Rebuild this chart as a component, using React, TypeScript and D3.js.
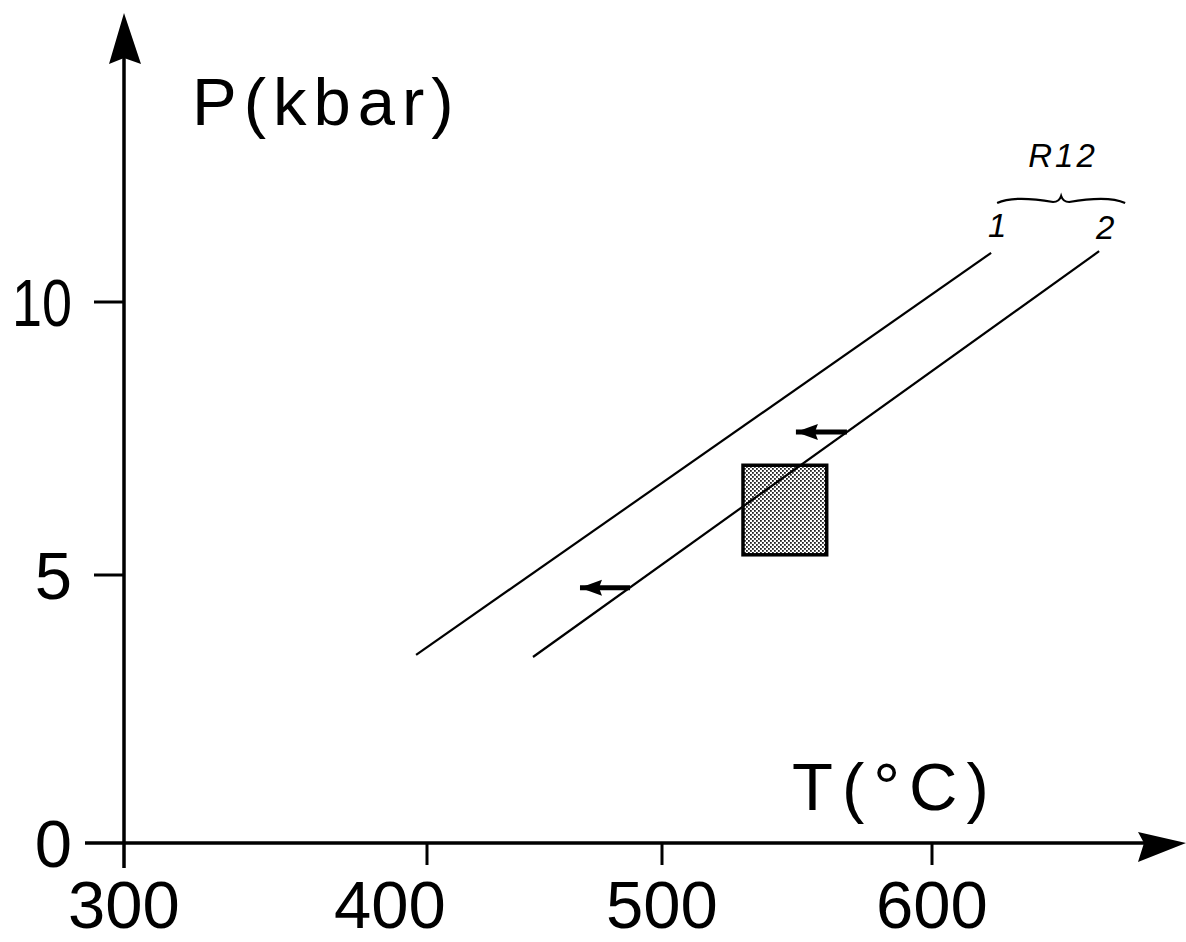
import React from "react";
import * as d3 from "d3";

// ---- data ----
const tempTicks = [300, 400, 500, 600];
const tempTickPx = [124, 427, 662, 932]; // hand-drawn, uneven spacing of the original axis
const pressureTicks = [0, 5, 10];
const pressureTickPx = [843, 575, 302];

const reaction1 = [
  { T: 396.4, P: 3.51 },
  { T: 621.9, P: 10.9 },
];
const reaction2 = [
  { T: 445.1, P: 3.47 },
  { T: 661.9, P: 10.93 },
];
const boxT = [530, 561];
const boxP = [5.37, 7.01];
const arrowA = [
  { T: 568.5, P: 7.62 },
  { T: 549.6, P: 7.62 },
];
const arrowB = [
  { T: 486.4, P: 4.76 },
  { T: 465.1, P: 4.76 },
];
const reactionLabels = ["1", "2"];
const groupLabel = "R12";

const W = 1186;
const H = 942;
const FONT = "'Liberation Sans', Arial, sans-serif";

export default function App() {
  const x = d3.scaleLinear().domain(tempTicks).range(tempTickPx);
  const y = d3.scaleLinear().domain(pressureTicks).range(pressureTickPx);
  const line = d3
    .line<{ T: number; P: number }>()
    .x((d) => x(d.T))
    .y((d) => y(d.P));

  const x0 = x(300);
  const y0 = y(0);

  const arrowHead = (pts: { T: number; P: number }[], len = 22, half = 8) => {
    const tx = x(pts[1].T);
    const ty = y(pts[1].P);
    return `M${tx},${ty} L${tx + len},${ty - half} L${tx + len - 3},${ty} L${tx + len},${ty + half} Z`;
  };

  const tickLabelDx: Record<number, number> = { 300: 0, 400: -37, 500: 0, 600: 0 };

  // brace between the ends of the two reaction lines
  const bx1 = x(reaction1[1].T) + 6;
  const bx2 = x(reaction2[1].T) + 26;
  const bm = (bx1 + bx2) / 2;
  const by = 200;
  const bracePath = `M${bx1},${by + 3} C${bx1 + 15},${by - 4} ${bm - 25},${by - 1} ${bm - 8},${by + 2} Q${bm - 2},${by + 2} ${bm},${by - 4} Q${bm + 2},${by + 2} ${bm + 8},${by + 2} C${bm + 25},${by - 1} ${bx2 - 15},${by - 4} ${bx2},${by + 3}`;

  return (
    <svg
      width={W}
      height={H}
      viewBox={`0 0 ${W} ${H}`}
      style={{ position: "absolute", left: 0, top: 0, background: "#fff" }}
    >
      <defs>
        <pattern id="stipple" width="4" height="4" patternUnits="userSpaceOnUse">
          <rect width="4" height="4" fill="#fff" />
          <rect x="0" y="0" width="1.8" height="1.8" fill="#222" />
          <rect x="2" y="2" width="1.8" height="1.8" fill="#222" />
        </pattern>
      </defs>

      {/* axes */}
      <line x1={x0} y1={868} x2={x0} y2={50} stroke="#000" strokeWidth={3.5} />
      <path d={`M${x0},13 L${x0 - 15},64 L${x0},58 L${x0 + 17},64 Z`} fill="#000" />
      <line x1={85} y1={y0} x2={1145} y2={y0} stroke="#000" strokeWidth={3.5} />
      <path d={`M1186,${y0} L1138,${y0 - 11} L1144,${y0} L1138,${y0 + 19} Z`} fill="#000" />

      {/* x ticks */}
      {tempTicks.map((t) => (
        <g key={t}>
          {t !== 300 && (
            <line x1={x(t)} y1={y0} x2={x(t)} y2={y0 + 22} stroke="#000" strokeWidth={3} />
          )}
          <text
            x={x(t) + tickLabelDx[t]}
            y={928}
            textAnchor="middle"
            fontFamily={FONT}
            fontSize={67}
            fill="#000"
          >
            {t}
          </text>
        </g>
      ))}

      {/* y ticks */}
      {pressureTicks.map((p) => (
        <g key={p}>
          {p !== 0 && (
            <line x1={x0 - 30} y1={y(p)} x2={x0} y2={y(p)} stroke="#000" strokeWidth={3} />
          )}
          <text
            x={72}
            y={y(p) + 24}
            textAnchor="end"
            fontFamily={FONT}
            fontSize={67}
            fill="#000"
            textLength={p >= 10 ? 60 : undefined}
            lengthAdjust="spacingAndGlyphs"
          >
            {p}
          </text>
        </g>
      ))}

      {/* axis titles */}
      <text x={192} y={125} fontFamily={FONT} fontSize={67} letterSpacing={7} fill="#000">
        P(kbar)
      </text>
      <text x={792} y={810} fontFamily={FONT} fontSize={67} letterSpacing={9} fill="#000">
        T(°C)
      </text>

      {/* P-T box */}
      <rect
        x={x(boxT[0])}
        y={y(boxP[1])}
        width={x(boxT[1]) - x(boxT[0])}
        height={y(boxP[0]) - y(boxP[1])}
        fill="url(#stipple)"
        stroke="#000"
        strokeWidth={3.5}
      />

      {/* reaction lines */}
      <path d={line(reaction1) || ""} fill="none" stroke="#000" strokeWidth={2.2} />
      <path d={line(reaction2) || ""} fill="none" stroke="#000" strokeWidth={2.2} />

      {/* arrows */}
      {[arrowA, arrowB].map((a, i) => (
        <g key={i}>
          <path d={line(a) || ""} stroke="#000" strokeWidth={5} />
          <path d={arrowHead(a)} fill="#000" />
        </g>
      ))}

      {/* labels */}
      <text x={x(reaction1[1].T) + 6} y={237} textAnchor="middle" fontFamily={FONT} fontStyle="italic" fontSize={33} fill="#000">
        {reactionLabels[0]}
      </text>
      <text x={x(reaction2[1].T) + 6} y={239} textAnchor="middle" fontFamily={FONT} fontStyle="italic" fontSize={33} fill="#000">
        {reactionLabels[1]}
      </text>
      <path d={bracePath} fill="none" stroke="#000" strokeWidth={2.2} />
      <text x={1063} y={167} textAnchor="middle" fontFamily={FONT} fontStyle="italic" fontSize={33} letterSpacing={3} fill="#000">
        {groupLabel}
      </text>
    </svg>
  );
}
